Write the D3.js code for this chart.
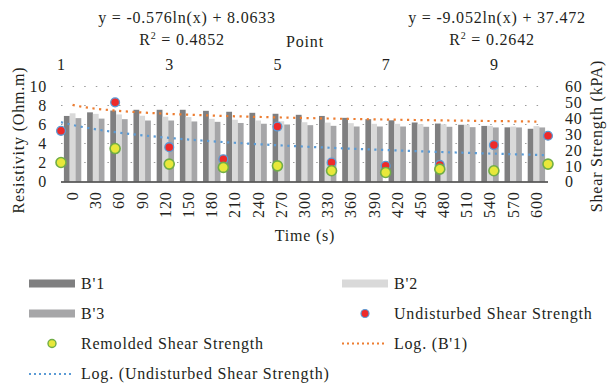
<!DOCTYPE html>
<html>
<head>
<meta charset="utf-8">
<script src="https://cdn.jsdelivr.net/npm/d3@7"></script>
<style>
  html, body { margin: 0; padding: 0; background: #fff; }
  svg text { font-family: "Liberation Serif", "Times New Roman", serif !important; fill: #231f20; letter-spacing: 0.8px; }
</style>
</head>
<body>
<svg id="chart" width="607" height="385" font-family="Liberation Serif, serif"></svg>
<script>
// Elapsed time of each resistivity reading (s)
const times = [0, 30, 60, 90, 120, 150, 180, 210, 240, 270, 300, 330, 360, 390, 420, 450, 480, 510, 540, 570, 600];

// Resistivity (Ohm.m) for the three electrode arrays
const b1 = [6.90, 7.28, 7.47, 7.55, 7.55, 7.55, 7.44, 7.34, 7.23, 7.13, 7.02, 6.90, 6.70, 6.56, 6.44, 6.21, 6.10, 5.97, 5.85, 5.70, 5.55];
const b2 = [7.18, 7.12, 7.06, 6.92, 6.82, 6.78, 6.60, 6.50, 6.42, 6.34, 6.24, 6.20, 6.14, 6.07, 6.07, 6.04, 6.02, 5.98, 5.86, 5.78, 5.83];
const b3 = [6.67, 6.62, 6.56, 6.42, 6.42, 6.32, 6.28, 6.16, 6.08, 6.00, 5.93, 5.86, 5.79, 5.79, 5.79, 5.76, 5.76, 5.72, 5.69, 5.69, 5.69];

// Shear strength (kPa) at each test point
const points = [1, 2, 3, 4, 5, 6, 7, 8, 9, 10];
const undisturbed = [32.0, 50.0, 21.7, 14.1, 34.7, 12.0, 9.9, 10.5, 23.0, 28.9];
const remolded = [12.0, 20.8, 11.0, 8.9, 9.9, 6.8, 5.7, 7.8, 6.8, 11.0];

// Logarithmic trend lines: y = a ln(x) + b
const fitB1 = { a: -0.576, b: 8.0633 };
const fitUnd = { a: -9.052, b: 37.472 };

const leftTicks = [0, 2, 4, 6, 8, 10];
const rightTicks = [0, 10, 20, 30, 40, 50, 60];
const topTicks = [1, 3, 5, 7, 9];

const seriesNames = ["B'1", "B'2", "B'3"];
const seriesColors = ["#7f7f80", "#d9d9d9", "#a6a6a8"];

const svg = d3.select("#chart");
const plot = { left: 61, right: 548, top: 86.5, bottom: 181.5 };

const x0 = d3.scaleBand().domain(times).range([plot.left, plot.right])
  .paddingInner(0.25).paddingOuter(0.125);
const x1 = d3.scaleBand().domain(seriesNames).range([0, x0.bandwidth()]);
const xPt = d3.scaleLinear().domain([1, 10]).range([plot.left, plot.right]);
const xFit = d3.scaleLinear().domain([1, times.length])
  .range([x0(times[0]) + x0.bandwidth() / 2, x0(times[times.length - 1]) + x0.bandwidth() / 2]);
const y = d3.scaleLinear().domain([0, 10]).range([plot.bottom, plot.top]);
const y2 = d3.scaleLinear().domain([0, 60]).range([plot.bottom, plot.top]);

// Dotted horizontal gridlines
svg.append("g").selectAll("line").data(leftTicks.filter(d => d > 0)).join("line")
  .attr("x1", plot.left).attr("x2", plot.right)
  .attr("y1", d => y(d)).attr("y2", d => y(d))
  .attr("stroke", "#9a9a9a").attr("stroke-width", 1.2)
  .attr("stroke-dasharray", "1.5,10.1");

// Grouped bars
const rows = times.map((t, i) => ({ t, vals: [b1[i], b2[i], b3[i]] }));
svg.append("g").selectAll("g").data(rows).join("g")
  .attr("transform", d => `translate(${x0(d.t)},0)`)
  .selectAll("rect").data(d => d.vals.map((v, k) => ({ k, v }))).join("rect")
  .attr("x", d => x1(seriesNames[d.k]))
  .attr("width", x1.bandwidth())
  .attr("y", d => y(d.v))
  .attr("height", d => y(0) - y(d.v))
  .attr("fill", d => seriesColors[d.k]);

// Category axis line
svg.append("line")
  .attr("x1", plot.left).attr("x2", plot.right)
  .attr("y1", plot.bottom + 0.5).attr("y2", plot.bottom + 0.5)
  .attr("stroke", "#3c3c3c").attr("stroke-width", 1.6);

// Trend lines
const lineB1 = d3.line().x(d => xFit(d)).y(d => y(fitB1.a * Math.log(d) + fitB1.b));
svg.append("path").datum(d3.range(1, times.length + 0.001, 0.25))
  .attr("d", lineB1).attr("fill", "none")
  .attr("stroke", "#ed7d31").attr("stroke-width", 2.2)
  .attr("stroke-dasharray", "2.2,4.5");

const lineUnd = d3.line().x(d => xPt(d)).y(d => y2(fitUnd.a * Math.log(d) + fitUnd.b));
svg.append("path").datum(d3.range(1, 10.001, 0.1))
  .attr("d", lineUnd).attr("fill", "none")
  .attr("stroke", "#5b9bd5").attr("stroke-width", 2.2)
  .attr("stroke-dasharray", "2.2,4.5");

// Shear strength markers
svg.append("g").selectAll("circle").data(points).join("circle")
  .attr("cx", d => xPt(d)).attr("cy", (d, i) => y2(undisturbed[i])).attr("r", 4.4)
  .attr("fill", "#ee2a2a").attr("stroke", "#5b9bd5").attr("stroke-width", 1.3);
svg.append("g").selectAll("circle").data(points).join("circle")
  .attr("cx", d => xPt(d)).attr("cy", (d, i) => y2(remolded[i])).attr("r", 5)
  .attr("fill", "#e8e83a").attr("stroke", "#70ad47").attr("stroke-width", 1.6);

// Axes
const fs = "16px";
const axL = svg.append("g").attr("transform", `translate(${plot.left - 14},0)`)
  .call(d3.axisLeft(y).tickValues(leftTicks).tickSize(0).tickPadding(0));
const axR = svg.append("g").attr("transform", `translate(${plot.right + 17},0)`)
  .call(d3.axisRight(y2).tickValues(rightTicks).tickSize(0).tickPadding(0));
const axT = svg.append("g").attr("transform", `translate(0,${plot.top - 17})`)
  .call(d3.axisTop(xPt).tickValues(topTicks).tickFormat(d3.format("d")).tickSize(0).tickPadding(0));
const axB = svg.append("g").attr("transform", `translate(0,${plot.bottom + 10})`)
  .call(d3.axisBottom(x0).tickSize(0).tickPadding(0));
[axL, axR, axT, axB].forEach(a => {
  a.attr("font-family", null).attr("font-size", null);
  a.select(".domain").remove();
  a.selectAll("text").attr("font-size", fs);
});
axL.selectAll("text").attr("dy", "0.34em");
axR.selectAll("text").attr("dy", "0.34em");
axT.selectAll("text").attr("dy", 0);
axB.selectAll("text")
  .attr("transform", "rotate(-90)")
  .attr("text-anchor", "end")
  .attr("x", 0).attr("y", 0).attr("dy", "0.34em");

// Axis titles
svg.append("text").attr("transform", "translate(24,140) rotate(-90)")
  .attr("text-anchor", "middle").attr("font-size", fs).text("Resistivity (Ohm.m)");
svg.append("text").attr("transform", "translate(602,136) rotate(-90)")
  .attr("text-anchor", "middle").attr("font-size", fs).text("Shear Strength (kPA)");
svg.append("text").attr("x", 305).attr("y", 241)
  .attr("text-anchor", "middle").attr("font-size", fs).text("Time (s)");
svg.append("text").attr("x", 305).attr("y", 47)
  .attr("text-anchor", "middle").attr("font-size", fs).text("Point");

// Trend line equations
function eqLabel(cx, fit, r2) {
  const g = svg.append("g");
  g.append("text").attr("x", cx).attr("y", 23).attr("text-anchor", "middle").attr("font-size", fs)
    .text(`y = ${fit.a}ln(x) + ${fit.b}`);
  const t = g.append("text").attr("x", cx - 5).attr("y", 45).attr("text-anchor", "middle").attr("font-size", fs);
  t.append("tspan").text("R");
  t.append("tspan").attr("dy", -6).attr("font-size", "10px").text("2");
  t.append("tspan").attr("dy", 6).text(` = ${r2}`);
}
eqLabel(187, fitB1, "0.4852");
eqLabel(497, fitUnd, "0.2642");

// Legend
const leg = svg.append("g");
const legendItems = [
  { type: "rect", color: seriesColors[0], label: "B'1", x: 29, y: 283.5 },
  { type: "rect", color: seriesColors[1], label: "B'2", x: 342, y: 283.5 },
  { type: "rect", color: seriesColors[2], label: "B'3", x: 29, y: 313.5 },
  { type: "und", label: "Undisturbed Shear Strength", x: 342, y: 313.5 },
  { type: "rem", label: "Remolded Shear Strength", x: 29, y: 343.5 },
  { type: "line", color: "#ed7d31", label: "Log. (B'1)", x: 342, y: 343.5 },
  { type: "line", color: "#5b9bd5", label: "Log. (Undisturbed Shear Strength)", x: 29, y: 374 }
];
legendItems.forEach(it => {
  if (it.type === "rect") {
    leg.append("rect").attr("x", it.x).attr("y", it.y - 4).attr("width", 46).attr("height", 8).attr("fill", it.color);
  } else if (it.type === "line") {
    leg.append("line").attr("x1", it.x).attr("x2", it.x + 44).attr("y1", it.y).attr("y2", it.y)
      .attr("stroke", it.color).attr("stroke-width", 2).attr("stroke-dasharray", "2,3");
  } else if (it.type === "und") {
    leg.append("circle").attr("cx", it.x + 23).attr("cy", it.y).attr("r", 4)
      .attr("fill", "#ee2a2a").attr("stroke", "#5b9bd5").attr("stroke-width", 1.2);
  } else {
    leg.append("circle").attr("cx", it.x + 23).attr("cy", it.y).attr("r", 4)
      .attr("fill", "#e8e83a").attr("stroke", "#70ad47").attr("stroke-width", 1.4);
  }
  leg.append("text").attr("x", it.x + 52).attr("y", it.y).attr("dy", "0.34em")
    .attr("font-size", fs).text(it.label);
});
</script>
</body>
</html>
